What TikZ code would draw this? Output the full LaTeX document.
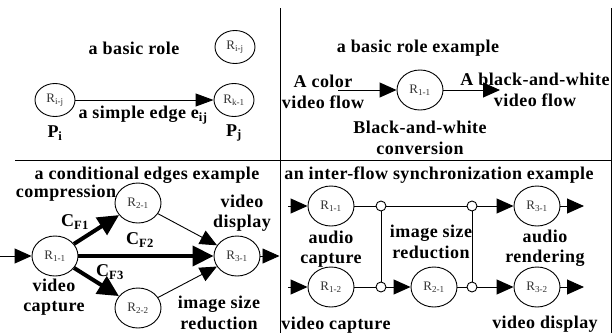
\documentclass[tikz,border=0pt]{standalone}
\usepackage{fontspec}
\setmainfont{Liberation Serif}[BoldFeatures={LetterSpace=2.5}]
\usetikzlibrary{arrows.meta,shapes.geometric}
\begin{document}
\begin{tikzpicture}[x=1pt,y=-1pt,
  role/.style={ellipse, draw, line width=0.9pt, minimum width=46pt, minimum height=40pt, inner sep=0pt, font=\fontsize{13}{13}\selectfont, text=black!80},
  smallrole/.style={role, minimum width=40pt, minimum height=33pt},
  junc/.style={circle, draw, line width=0.9pt, minimum size=10pt, inner sep=0pt},
  lbl/.style={font=\bfseries\fontsize{18}{20.5}\selectfont, align=center, inner sep=0pt},
  arr/.style={-{Triangle[length=17pt,width=15pt]}, line width=0.9pt},
  fatarr/.style={-{Triangle[length=21pt,width=20pt]}, line width=4pt},
  ln/.style={line width=0.9pt}
]
\useasboundingbox (0,0) rectangle (614,333);
% frame
\draw[ln] (280,8) -- (280,333);
\draw[ln] (611,8) -- (611,333);
\draw[ln] (15,160) -- (611,160);

% top-left
\node[lbl] (t1) at (134,48) {a basic role};
\node[smallrole] (ra) at (235,47) {R\textsubscript{i-j}};
\node[smallrole] (rb) at (55,100) {R\textsubscript{i-j}};
\node[smallrole] (rc) at (234,100) {R\textsubscript{k-1}};
\draw[-{Triangle[length=18pt,width=13pt]}, line width=0.9pt] (rb) -- (rc);
\node[lbl] (se) at (143,115) {a simple edge e\textsubscript{ij}};
\node[lbl] (pi) at (55,133) {P\textsubscript{i}};
\node[lbl] (pj) at (234,133) {P\textsubscript{j}};

% top-right
\node[lbl] (t2) at (418,48) {a basic role example};
\node[lbl] (acv) at (323,92) {A color\\video flow};
\coordinate (ain) at (338,90);
\node[role] (r11t) at (420,90) {R\textsubscript{1-1}};
\coordinate (aout) at (500,90);
\draw[arr] (ain) -- (r11t);
\draw[arr] (r11t) -- (aout);
\node[lbl] (bwv) at (535,90) {A black-and-white\\video flow};
\node[lbl] (bwc) at (420,138) {Black-and-white\\conversion};

% bottom-left
\node[lbl] (t3) at (147,175) {a conditional edges example};
\node[role] (b11) at (55,256) {R\textsubscript{1-1}};
\node[role] (b21) at (138,203) {R\textsubscript{2-1}};
\node[role] (b22) at (138,308) {R\textsubscript{2-2}};
\node[role] (b31) at (237,256) {R\textsubscript{3-1}};
\coordinate (bin) at (0,256);
\coordinate (bout) at (279.5,256);
\draw[arr] (bin) -- (b11);
\draw[arr] (b31) -- (bout);
\draw[fatarr] (b11) -- (b21);
\draw[fatarr] (b11) -- (b31);
\draw[fatarr] (b11) -- (b22);
\draw[arr] (b21) -- (b31);
\draw[arr] (b22) -- (b31);
\node[lbl] (cmp) at (66,193) {compression};
\node[lbl] (vd) at (242,213) {video\\display};
\node[lbl] (cf1) at (75,222) {C\textsubscript{F1}};
\node[lbl] (cf2) at (140,240) {C\textsubscript{F2}};
\node[lbl] (cf3) at (110,272) {C\textsubscript{F3}};
\node[lbl] (vc) at (54,297) {video\\capture};
\node[lbl] (isr) at (219,313) {image size\\reduction};

% bottom-right
\node[lbl] (t4) at (439,175) {an inter-flow synchronization example};
\node[role] (c11) at (331,206) {R\textsubscript{1-1}};
\node[role] (c12) at (331,287) {R\textsubscript{1-2}};
\node[role] (c21) at (434,287) {R\textsubscript{2-1}};
\node[role] (c31) at (537,206) {R\textsubscript{3-1}};
\node[role] (c32) at (537,287) {R\textsubscript{3-2}};
\node[junc] (j1) at (381,206) {};
\node[junc] (j2) at (472,206) {};
\node[junc] (j3) at (381,287) {};
\node[junc] (j4) at (472,287) {};
\coordinate (in1) at (288,206);
\coordinate (in2) at (288,287);
\coordinate (out1) at (584,206);
\coordinate (out2) at (584,287);
\draw[arr] (in1) -- (c11);
\draw[arr] (in2) -- (c12);
\draw[ln] (c11) -- (j1);
\draw[ln] (j1) -- (j2);
\draw[ln] (j1) -- (j3);
\draw[ln] (j2) -- (j4);
\draw[ln] (c12) -- (j3);
\draw[ln] (c21) -- (j4);
\draw[arr] (j2) -- (c31);
\draw[arr] (j3) -- (c21);
\draw[arr] (j4) -- (c32);
\draw[arr] (c31) -- (out1);
\draw[arr] (c32) -- (out2);
\node[lbl] (ac) at (331,249) {audio\\capture};
\node[lbl] (isr2) at (431,242) {image size\\reduction};
\node[lbl] (ar) at (545,248) {audio\\rendering};
\node[lbl] (vc2) at (336,325) {video capture};
\node[lbl] (vd2) at (545,324) {video display};
\end{tikzpicture}
\end{document}
